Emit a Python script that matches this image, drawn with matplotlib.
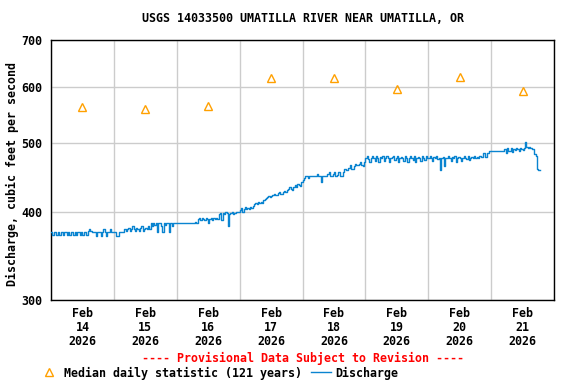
import matplotlib
matplotlib.use("Agg")
import matplotlib.pyplot as plt
import matplotlib.dates as mdates
from matplotlib.ticker import NullLocator, FixedLocator, FixedFormatter
from matplotlib.lines import Line2D
import pandas as pd

# half-hourly discharge, cfs, starting 2026-02-14 00:00
feb14 = [374, 371, 374, 374, 371, 374, 371, 371, 374, 371, 374, 374, 371, 374,
         371, 374, 374, 371, 374, 371, 374, 374, 371, 374, 371, 374, 374, 371,
         376, 378, 376, 375,
         375, 375, 370, 375, 375, 375, 370, 375, 378, 375, 370, 375, 375, 378, 375, 375]
feb15 = [375, 375, 370, 370, 375, 375, 375, 375,
         378, 376, 378, 379, 376, 378, 382, 378, 376, 379, 378, 376, 379, 382, 376, 378,
         379, 378, 382, 378,
         385, 382, 386, 383, 386, 375, 385, 386, 382, 375, 386, 383, 386, 385, 375, 386,
         382, 386, 385, 386]
feb16 = [386, 386, 385, 386, 386, 386, 386, 385, 386, 386, 386, 386, 385, 386, 387, 386,
         390, 392, 389, 392, 390, 389, 392, 390, 386, 390, 392, 389, 392, 390, 392, 391,
         397, 398, 389, 398, 397, 400, 398, 382, 397, 398, 400, 397, 398, 400, 399, 400]
feb17 = [402, 405, 400, 404, 406, 404, 405, 403, 406, 405,
         408, 410, 412, 410, 413, 411, 413, 412,
         416, 417, 418, 419, 421, 420,
         421, 423, 424, 422, 422, 425, 426, 424, 424, 427, 428, 426,
         430, 431, 433, 431, 430, 433, 436, 434, 438, 436, 435, 440]
feb18 = [443, 446, 450, 449, 446, 449, 449, 449, 449, 449, 449, 452,
         449, 449, 441, 449, 449, 449, 449, 452, 455, 449, 449, 452,
         456, 449, 451, 456, 456, 449, 449, 456, 460, 458, 458, 462,
         466, 460, 460, 464, 468, 466, 466, 468, 471, 466, 464, 470]
feb19 = [476, 479, 475, 470, 477, 479, 476, 472, 479, 476, 471, 478,
         476, 479, 472, 476, 479, 477, 470, 476, 478, 479, 474, 476,
         479, 471, 476, 478, 476, 472, 479, 476, 470, 477, 479, 476,
         474, 479, 471, 476, 478, 476, 472, 479, 476, 474, 479, 476]
feb20 = [476, 479, 476, 472, 478, 476, 479, 475, 476, 458, 476, 478,
         464, 476, 477, 479, 476, 472, 478, 476, 479, 471, 476, 478,
         477, 472, 476, 479, 477, 475, 479, 473, 476, 478, 477, 479,
         476, 478, 477, 479, 478, 478, 485, 478, 478, 485, 487, 487]
feb21 = [487, 487, 488, 487, 487, 488, 487, 487, 488, 488,
         490, 485, 492, 488, 487, 493, 486, 491, 489, 493, 490, 488, 493, 491, 489, 492,
         502, 494, 492, 494, 493, 490,
         490, 482, 480, 460, 459, 459]
discharge = feb14 + feb15 + feb16 + feb17 + feb18 + feb19 + feb20 + feb21
times = pd.date_range("2026-02-14 00:00", periods=len(discharge), freq="30min")

median_days = pd.date_range("2026-02-14 12:00", periods=8, freq="D")
median_vals = [563, 559, 564, 618, 618, 596, 620, 592]

yticks = [300, 400, 500, 600, 700]
day_labels = ["Feb\n%d\n2026" % d for d in range(14, 22)]

font = "DejaVu Sans Mono"
plt.rcParams["font.family"] = font
plt.rcParams["font.weight"] = "bold"
fs = 8.4
blue = "#0a84d0"
orange = "#ffa000"

fig = plt.figure(figsize=(5.76, 3.84), dpi=100)
ax = fig.add_axes([51 / 576, 84 / 384, 503 / 576, 260 / 384])

ax.plot(times, discharge, color=blue, lw=1.0, drawstyle="steps-post", zorder=3)
ax.plot(median_days, median_vals, ls="none", marker="^", ms=6, mfc="none",
        mec=orange, mew=1.0, zorder=4)

ax.set_yscale("log")
ax.set_ylim(300, 700)
ax.yaxis.set_major_locator(FixedLocator(yticks))
ax.yaxis.set_major_formatter(FixedFormatter([str(v) for v in yticks]))
ax.yaxis.set_minor_locator(NullLocator())

ax.set_xlim(pd.Timestamp("2026-02-14"), pd.Timestamp("2026-02-22"))
ax.xaxis.set_major_locator(FixedLocator(mdates.date2num(median_days)))
ax.xaxis.set_major_formatter(FixedFormatter(day_labels))
ax.xaxis.set_minor_locator(mdates.DayLocator())

ax.grid(which="minor", axis="x", color="#cccccc", lw=1.0)
ax.grid(which="major", axis="y", color="#cccccc", lw=1.0)
ax.set_axisbelow(True)

ax.tick_params(which="both", length=0)
ax.tick_params(axis="y", pad=6, labelsize=fs)
ax.tick_params(axis="x", pad=5, labelsize=fs)
for lab in ax.get_xticklabels():
    lab.set_linespacing(1.1)
    lab.set_fontweight("bold")
for lab in ax.get_yticklabels():
    lab.set_fontweight("bold")
for sp in ax.spines.values():
    sp.set_linewidth(1.0)
    sp.set_color("black")

fig.text(302.5 / 576, 1 - 19 / 384, "USGS 14033500 UMATILLA RIVER NEAR UMATILLA, OR",
         ha="center", va="center", fontsize=fs, fontweight="bold")
fig.text(12 / 576, 1 - 174 / 384, "Discharge, cubic feet per second",
         ha="center", va="center", rotation=90, fontsize=fs, fontweight="bold")
fig.text(302.5 / 576, 1 - 358 / 384, "---- Provisional Data Subject to Revision ----",
         ha="center", va="center", fontsize=fs, fontweight="bold", color="red")

handles = [Line2D([], [], ls="none", marker="^", ms=6, mfc="none", mec=orange, mew=1.0),
           Line2D([], [], color=blue, lw=1.0)]
fig.legend(handles, ["Median daily statistic (121 years)", "Discharge"],
           loc="center left", bbox_to_anchor=(39 / 576, 1 - 373 / 384), ncol=2,
           frameon=False, fontsize=fs, handlelength=1.7, handletextpad=0.4,
           columnspacing=0.8, borderpad=0, borderaxespad=0,
           prop={"family": font, "weight": "bold", "size": fs})

fig.savefig("out.png", dpi=100)
